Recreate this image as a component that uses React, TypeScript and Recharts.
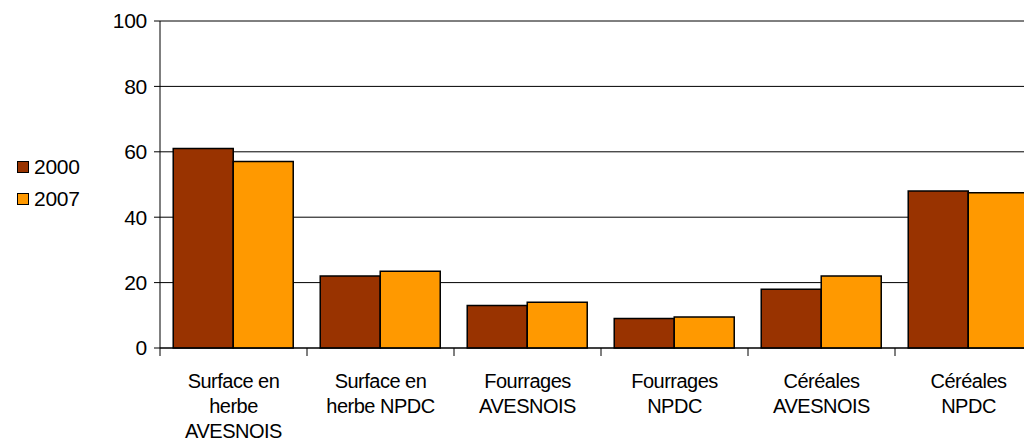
import React from 'react';
import { BarChart, Bar, XAxis, YAxis, CartesianGrid } from 'recharts';

const categories = [
  'Surface en|herbe|AVESNOIS',
  'Surface en|herbe NPDC',
  'Fourrages|AVESNOIS',
  'Fourrages|NPDC',
  'Céréales|AVESNOIS',
  'Céréales|NPDC',
];
const values2000 = [61, 22, 13, 9, 18, 48];
const values2007 = [57, 23.5, 14, 9.5, 22, 47.5];
const yTicks = [0, 20, 40, 60, 80, 100];

const series = [
  { key: 'y2000', name: '2000', color: '#993300', values: values2000 },
  { key: 'y2007', name: '2007', color: '#FF9900', values: values2007 },
];

const data = categories.map((c, i) => ({
  name: c,
  y2000: values2000[i],
  y2007: values2007[i],
}));

const W = 1050;
const H = 443;
const LEFT = 160;
const RIGHT = 8;
const BAND = (W - LEFT - RIGHT) / categories.length;

const font = '"Liberation Sans", Arial, sans-serif';

const XTick = (props: any) => {
  const { x, y, payload } = props;
  const lines = String(payload.value).split('|');
  return (
    <g>
      <line x1={x - BAND / 2} x2={x - BAND / 2} y1={y} y2={y + 8} stroke="#000" />
      <text textAnchor="middle" fontSize={20} letterSpacing={-0.5} fontFamily={font} fill="#000">
        {lines.map((l, i) => (
          <tspan key={i} x={x} y={y + 40 + i * 25}>
            {l}
          </tspan>
        ))}
      </text>
    </g>
  );
};

const App = () => {
  return (
    <div style={{ position: 'absolute', left: 0, top: 0, width: 1024, height: H, overflow: 'hidden', background: '#fff' }}>
      <BarChart
        width={W}
        height={H}
        data={data}
        margin={{ top: 21, right: RIGHT, left: 0, bottom: 0 }}
        barCategoryGap="9%"
        barGap={0}
      >
        <CartesianGrid vertical={false} stroke="#000" />
        <XAxis
          dataKey="name"
          height={95}
          axisLine={{ stroke: '#000' }}
          tickLine={false}
          tickSize={0}
          tickMargin={0}
          tick={<XTick />}
          interval={0}
        />
        <YAxis
          width={LEFT}
          domain={[0, 100]}
          ticks={yTicks}
          axisLine={{ stroke: '#000' }}
          tickLine={{ stroke: '#000' }}
          tickSize={6}
          tickMargin={7}
          tick={{ fill: '#000', fontSize: 21, fontFamily: font, letterSpacing: -0.3 }}
        />
        {series.map((s) => (
          <Bar key={s.key} dataKey={s.key} name={s.name} fill={s.color} stroke="#000" strokeWidth={1.5} isAnimationActive={false} />
        ))}
      </BarChart>
      <div style={{ position: 'absolute', left: 17, top: 151, fontFamily: font, fontSize: 21, letterSpacing: -0.3 }}>
        {series.map((s) => (
          <div key={s.key} style={{ display: 'flex', alignItems: 'center', height: 32 }}>
            <span style={{ display: 'inline-block', width: 10, height: 10, background: s.color, border: '1px solid #000', marginRight: 5 }} />
            <span>{s.name}</span>
          </div>
        ))}
      </div>
    </div>
  );
};

export default App;
